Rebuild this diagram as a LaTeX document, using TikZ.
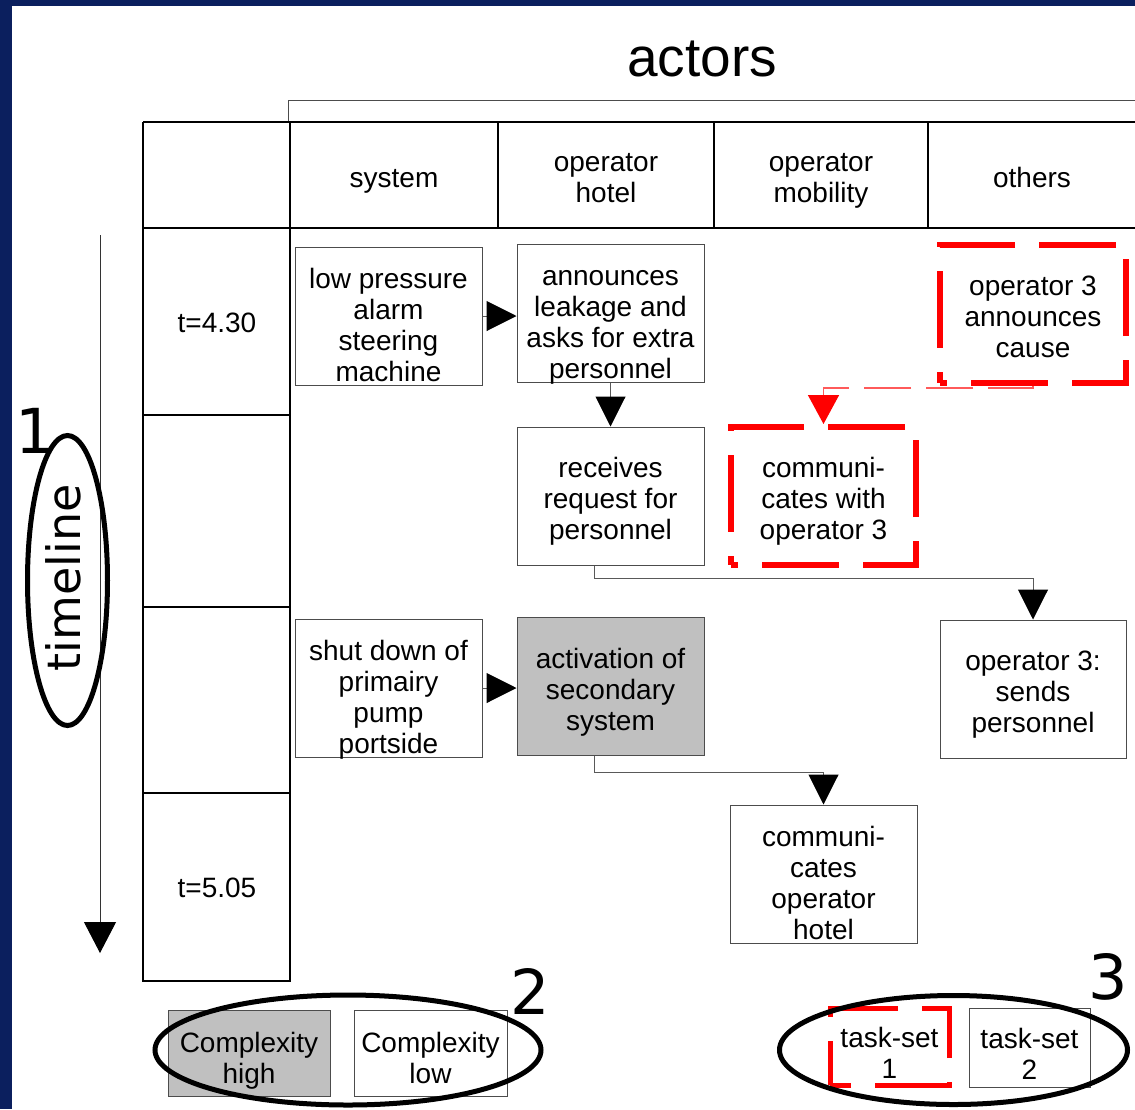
\documentclass[tikz,border=0pt]{standalone}
\usepackage{fontspec}
\setmainfont{Liberation Sans}
\newfontfamily\djvfont{DejaVu Sans}
\usetikzlibrary{arrows.meta,shapes.geometric}
\definecolor{navy}{HTML}{0B1F5E}
\definecolor{boxgray}{HTML}{C0C0C0}
\definecolor{lightred}{HTML}{FF5A5A}
\newcommand{\fourA}{\rule{0pt}{37.4pt}}
\newcommand{\threeA}{\rule{0pt}{34.7pt}}
\newcommand{\threeB}{\rule[-9.3pt]{0pt}{9.3pt}}
\begin{document}
\begin{tikzpicture}[x=1pt,y=-1pt,
  txt/.style={font=\fontsize{28}{31}\selectfont, align=center, inner sep=0pt},
  task/.style={txt, draw=black!70, line width=1pt, minimum width=187pt, minimum height=138pt},
  hi/.style={fill=boxgray},
  redtask/.style={txt, draw=red, line width=6pt, dash pattern=on 77pt off 24pt, dash phase=70pt, minimum width=186pt, minimum height=138pt},
  grid/.style={draw=black, line width=1.2pt},
  conn/.style={draw=black!65, line width=1pt, -{Triangle[length=30pt,width=30pt,color=black]}},
  redconn/.style={draw=lightred, line width=1.5pt, dash pattern=on 47pt off 15pt, -{Triangle[length=29pt,width=31pt,color=red]}},
  ring/.style={draw=black, line width=5pt, ellipse, inner sep=0pt},
  num/.style={font=\djvfont\fontsize{62}{62}\selectfont, inner sep=0pt},
]
\useasboundingbox (0,0) rectangle (1135,1109);
\fill[navy] (0,0) rectangle (1135,1109);
\fill[white] (12,6) rectangle (1135,1109);

% title and bracket
\node[font=\fontsize{55}{60}\selectfont, inner sep=0pt] (actors) at (702,59) {actors};
\draw[black!70, line width=1pt] (288,122) -- (288,100) -- (1135,100);

% table grid
\draw[grid] (143,122) -- (1135,122);
\draw[grid] (143,228) -- (1135,228);
\draw[grid] (143,122) -- (143,981) -- (290,981) -- (290,122);
\draw[grid] (498,122) -- (498,228);
\draw[grid] (714,122) -- (714,228);
\draw[grid] (928,122) -- (928,228);
\draw[grid] (143,415) -- (290,415);
\draw[grid] (143,607) -- (290,607);
\draw[grid] (143,793) -- (290,793);

% header texts
\node[txt] (hsys) at (394,181) {\strut system\strut};
\node[txt] (hhot) at (606,180.5) {\strut operator\\hotel\strut};
\node[txt] (hmob) at (821,180.5) {\strut operator\\mobility\strut};
\node[txt] (hoth) at (1032,181) {\strut others\strut};
\node[txt] (t1) at (217,326) {\strut t=4.30\strut};
\node[txt] (t2) at (217,891) {\strut t=5.05\strut};

% timeline
\coordinate (tltop) at (100,235);
\coordinate (tlbot) at (100,953);
\draw[black!80, line width=1pt, -{Triangle[length=31pt,width=32pt,color=black]}] (tltop) -- (tlbot);
\node[font=\djvfont\fontsize{46}{46}\selectfont, rotate=90, inner sep=0pt] (tl) at (63,578) {timeline};
\node[ring, minimum width=80pt, minimum height=290pt] (ring1) at (67.5,580.5) {};
\node[num] (n1) at (35,431) {1};

% task boxes
\node[task] (lp) at (388.5,316) {\fourA low pressure\\alarm\\steering\\\smash{machine}};
\node[task] (ann) at (610.5,313.5) {\fourA announces\\leakage and\\asks for extra\\\smash{personnel}};
\node[redtask] (op3a) at (1033,314) {\threeA operator 3\\announces\\cause\threeB};
\node[task] (rec) at (610.5,496) {\threeA receives\\request for\\personnel\threeB};
\node[redtask, minimum width=185pt] (com3) at (823.5,496) {\threeA communi-\\cates with\\operator 3\threeB};
\node[task] (shut) at (388.5,688) {\fourA shut down of\\primairy\\pump\\\smash{portside}};
\node[task, hi] (act) at (610.5,686.5) {\threeA activation of\\secondary\\system\threeB};
\node[task, minimum width=186pt] (send) at (1033,689) {\threeA operator 3:\\sends\\personnel\threeB};
\node[task] (comh) at (823.5,874) {\fourA communi-\\cates\\operator\\\smash{hotel}};

% connectors
\draw[conn] (lp.east) -- (lp.east -| ann.west);
\draw[conn] (ann.south) -- (rec.north);
\draw[redconn] (op3a.south) -- ++(0,2) -| (com3.north);
\draw[conn] ([xshift=-16.5pt]rec.south) -- ++(0,13) -| (send.north);
\draw[conn] (shut.east) -- (shut.east -| act.west);
\draw[conn] ([xshift=-16.5pt]act.south) -- ++(0,16) -| (comh.north);

% legend
\node[txt, draw=black!70, line width=1pt, fill=boxgray, minimum width=162pt, minimum height=86pt] (chigh) at (249,1053) {\rule{0pt}{38.3pt}Complexity\\high\strut};
\node[txt, draw=black!70, line width=1pt, minimum width=153pt, minimum height=86pt] (clow) at (430.5,1053) {\rule{0pt}{38.3pt}Complexity\\low\strut};
\node[ring, minimum width=386pt, minimum height=110pt] (ring2) at (348,1050) {};
\node[num] (n2) at (530,991) {2};

\node[txt, draw=red, line width=5pt, dash pattern=on 77pt off 24pt, dash phase=56pt, minimum width=119pt, minimum height=77pt] (ts1) at (889.5,1046.5) {\rule{0pt}{33.6pt}task-set\\1};
\node[txt, draw=black!70, line width=1pt, minimum width=121pt, minimum height=79pt] (ts2) at (1029.5,1047.5) {\rule{0pt}{33.6pt}task-set\\2};
\node[ring, minimum width=348pt, minimum height=109pt] (ring3) at (953.5,1050) {};
\node[num] (n3) at (1108,977) {3};
\end{tikzpicture}
\end{document}
